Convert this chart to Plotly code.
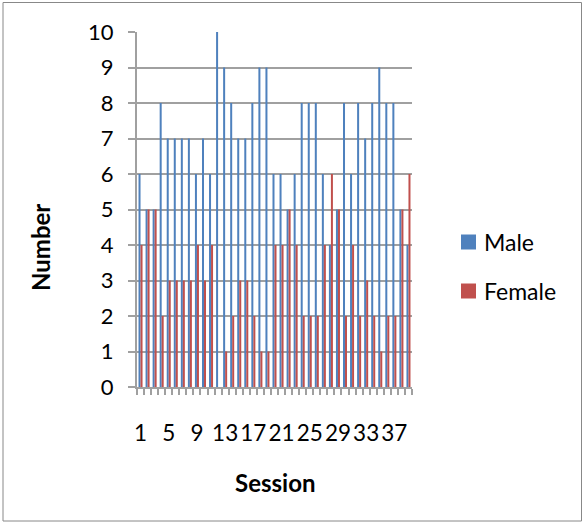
import plotly.graph_objects as go

# Attendance per session, split by gender
sessions = ["1", "2", "3", "4", "5", "6", "7", "8", "9", "10",
            "11", "12", "13", "14", "15", "16", "17", "18", "19", "20",
            "21", "22", "23", "24", "25", "26", "27", "28", "29", "30",
            "31", "32", "33", "34", "35", "36", "37", "38", "39"]
male = [6, 5, 5, 8, 7, 7, 7, 7, 6, 7,
        6, 10, 9, 8, 7, 7, 8, 9, 9, 6,
        6, 5, 6, 8, 8, 8, 6, 4, 5, 8,
        6, 8, 7, 8, 9, 8, 8, 5, 4]
female = [4, 5, 5, 2, 3, 3, 3, 3, 4, 3,
          4, 0, 1, 2, 3, 3, 2, 1, 1, 4,
          4, 5, 4, 2, 2, 2, 4, 6, 5, 2,
          4, 2, 3, 2, 1, 2, 2, 5, 6]
labelled_sessions = ["1", "5", "9", "13", "17", "21", "25", "29", "33", "37"]
y_ticks = [0, 1, 2, 3, 4, 5, 6, 7, 8, 9, 10]
series_names = ["Male", "Female"]
series_colors = ["#4F81BD", "#C0504D"]

FONT = "Lato"
GRID = "#A0A0A0"

W, H = 585, 527
L, R, T, B = 137, 173, 32, 140
pw, ph = W - L - R, H - T - B

def px_x(x):
    return (x - L) / pw

def px_y(y):
    return (H - B - y) / ph

fig = go.Figure()
for name, color, values in zip(series_names, series_colors, [male, female]):
    fig.add_trace(go.Bar(x=sessions, y=values, name=name, marker_color=color,
                         marker_line_width=0, showlegend=False))

fig.update_layout(
    width=W, height=H,
    margin=dict(l=L, r=R, t=T, b=B),
    paper_bgcolor="white", plot_bgcolor="white",
    barmode="group", bargap=0.43, bargroupgap=0,
    font=dict(family=FONT, size=22, color="black"),
    xaxis=dict(type="category", tickmode="array", tickvals=sessions,
               ticktext=[s if s in labelled_sessions else "" for s in sessions],
               tickangle=0, tickson="boundaries", ticks="outside", ticklen=6,
               tickwidth=1.5, tickcolor=GRID, showgrid=False, showline=True,
               linecolor=GRID, linewidth=2, ticklabelstandoff=25, zeroline=False,
               tickfont=dict(size=22.5)),
    yaxis=dict(range=[0, 10], tickvals=y_ticks, ticks="outside", ticklen=7,
               tickwidth=1.5, tickcolor=GRID, showgrid=True, gridcolor=GRID,
               gridwidth=2, showline=True, linecolor=GRID, linewidth=2,
               zeroline=False, ticklabelstandoff=10, tickfont=dict(size=22)),
)

# legend: colour swatch + series name
for i, (name, color) in enumerate(zip(series_names, series_colors)):
    yc = 242 + i * 49
    fig.add_shape(type="rect", xref="paper", yref="paper",
                  x0=px_x(461), x1=px_x(476), y0=px_y(yc + 7.5), y1=px_y(yc - 7.5),
                  line=dict(width=0), fillcolor=color)
    fig.add_annotation(text=name, x=px_x(482), y=px_y(yc), xref="paper", yref="paper",
                       xanchor="left", yanchor="middle", showarrow=False,
                       font=dict(size=23))

# axis titles
fig.add_annotation(text="<b>Number</b>", x=px_x(40), y=px_y(248), xref="paper", yref="paper",
                   xanchor="center", yanchor="middle", textangle=-90, showarrow=False,
                   font=dict(size=24))
fig.add_annotation(text="<b>Session</b>", x=px_x(274.5), y=px_y(482), xref="paper", yref="paper",
                   xanchor="center", yanchor="middle", showarrow=False, font=dict(size=24))

# chart frame
fig.add_shape(type="rect", xref="paper", yref="paper",
              x0=px_x(3), x1=px_x(581.5), y0=px_y(521), y1=px_y(2.5),
              line=dict(color="#888888", width=1), fillcolor="rgba(0,0,0,0)", layer="below")

fig.write_html("out.html")
